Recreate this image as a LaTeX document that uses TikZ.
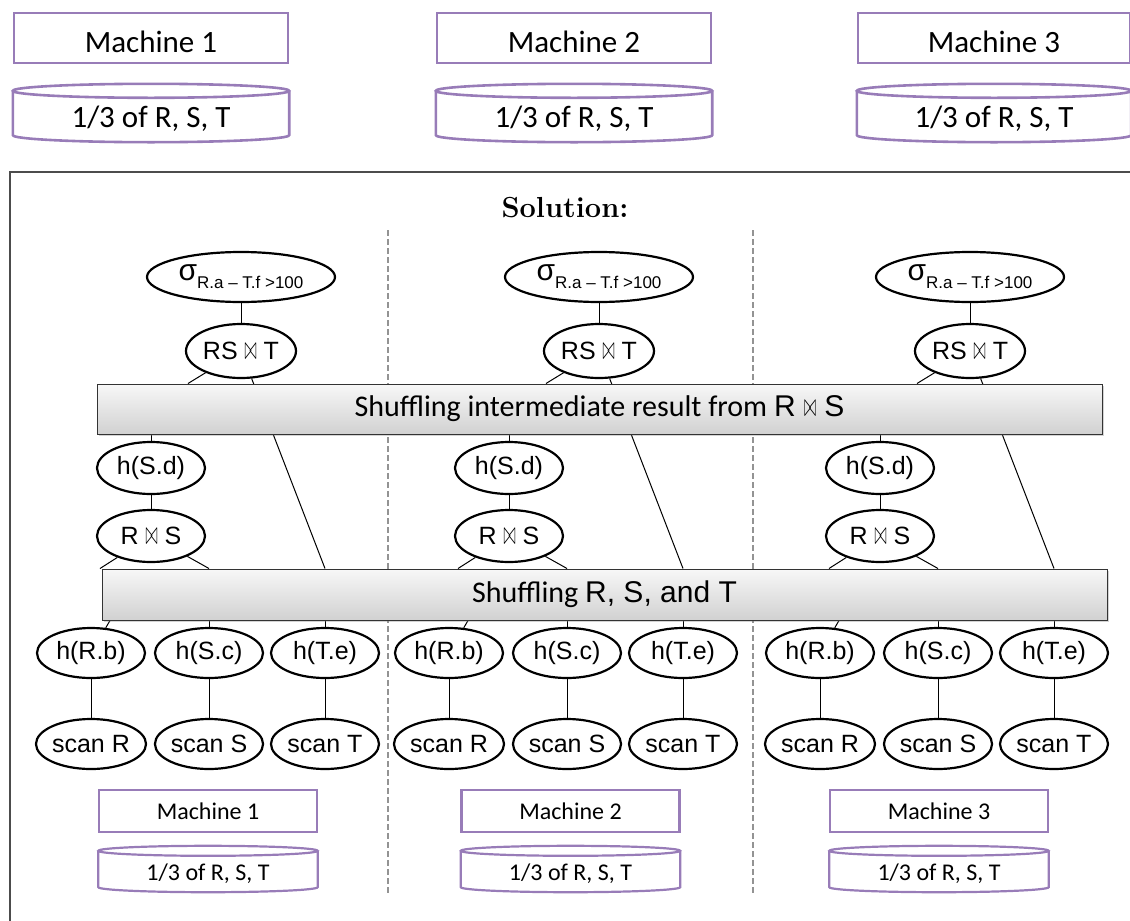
\documentclass[tikz,border=0pt]{standalone}
\usepackage{fontspec}
\newfontfamily\calibri{Carlito}
\newfontfamily\arial{Liberation Sans}
\usetikzlibrary{positioning,shapes.geometric,shadows,backgrounds,calc}
\definecolor{machine}{RGB}{152,124,184}
\newcommand\jointie{\scalebox{0.6}[1.35]{$\bowtie$}}
% outline of a disk: node, cap radius, line options
\newcommand\drawdisk[3]{%
  \path let \p1=(#1.north west), \p2=(#1.south east), \n1={(\x2-\x1)/2} in
    [draw=machine,#3]
    (#1.north) ellipse [x radius=\n1, y radius=#2pt]
    (#1.north west) -- (#1.south west)
    arc [start angle=180, end angle=360, x radius=\n1, y radius=#2pt]
    -- (#1.north east);
}
\tikzset{
  topbox/.style={draw=machine,line width=2.6pt,minimum height=50pt,inner sep=0pt,
    text height=29pt,text depth=0pt,font=\calibri\fontsize{31}{36}\selectfont},
  topdisk/.style={minimum height=44pt,inner sep=0pt,text height=30pt,text depth=2pt,
    font=\calibri\fontsize{31}{36}\selectfont},
  lowbox/.style={draw=machine,line width=2.2pt,minimum width=218pt,minimum height=42pt,
    inner sep=0pt,font=\calibri\fontsize{24}{28}\selectfont},
  lowdisk/.style={minimum width=219pt,minimum height=36pt,inner sep=0pt,
    text height=24pt,text depth=2pt,font=\calibri\fontsize{24}{28}\selectfont},
  op/.style={ellipse,draw,line width=2.2pt,minimum width=108pt,minimum height=50pt,
    inner sep=0pt,font=\arial\fontsize{25}{30}\selectfont},
  shuffle/.style={draw=black!80,line width=1pt,top color=gray!6,bottom color=gray!36,
    drop shadow={opacity=0.35,shadow xshift=2pt,shadow yshift=-2pt},
    minimum width=1005pt,inner sep=0pt,font=\calibri\fontsize{30}{34}\selectfont},
  link/.style={line width=1pt},
  sep/.style={gray!85,dash pattern=on 6pt off 3pt,line width=2.6pt},
}

\begin{document}
\begin{tikzpicture}[x=1pt,y=1pt]
\useasboundingbox (0,0) rectangle (1130,-921);
\clip (0,0) rectangle (1130,-921);

% the three machines, each with a third of the data
\foreach \m/\x/\w in {1/151/274,2/574/274,3/994/272}{
  \node[topbox,minimum width=\w] (top\m) at (\x,-38) {Machine \m};
  \node[topdisk,minimum width=\w+2] (topdisk\m) at (\x,-113) {1/3 of R, S, T};
  \drawdisk{topdisk\m}{7}{line width=2.6pt}
}

% frame round the solution
\draw[black!70,line width=1.4pt] (10,-930) -- (10,-172) -- (1140,-172);
\node[font=\fontsize{29}{34}\selectfont\bfseries] (title) at (565,-208) {Solution:};

\draw[sep] (388,-230) -- (388,-895);
\draw[sep] (753,-230) -- (753,-895);

% one plan per machine
\foreach \c/\x in {1/241,2/599,3/970}{
  \node[op,minimum width=188pt] (sel\c) at (\x,-277)
    {{\fontsize{30}{30}\selectfont σ}\raisebox{-8pt}{\fontsize{17}{17}\selectfont R.a – T.f >100}};
  \node[op,minimum width=110pt,minimum height=54pt] (rst\c) at (\x,-351) {RS \jointie\ T};
  \node[op,minimum height=52pt] (hsd\c) at (\x-90,-468) {h(S.d)};
  \node[op,minimum height=52pt] (rs\c) at (\x-90,-536) {R \jointie\ S};
  \node[op] (hrb\c) at (\x-150,-653) {h(R.b)};
  \node[op] (hsc\c) at (\x-32,-653) {h(S.c)};
  \node[op] (hte\c) at (\x+84,-653) {h(T.e)};
  \node[op] (scr\c) at (\x-150,-744) {scan R};
  \node[op] (scs\c) at (\x-32,-744) {scan S};
  \node[op] (sct\c) at (\x+84,-744) {scan T};
}

\node[shuffle,minimum height=50pt] (mid) at (599.5,-409)
  {Shuffling intermediate result from {\arial\fontsize{30}{34}\selectfont R \jointie\ S}};
\node[shuffle,minimum height=51pt] (base) at (604.5,-594.5)
  {Shuffling {\arial\fontsize{30}{34}\selectfont R, S, and T}};

% edges run behind the shuffle bars
\begin{scope}[on background layer]
\foreach \c in {1,2,3}{
  \draw[link] (sel\c) -- (rst\c);
  \draw[link] (rst\c) -- ([xshift=-53pt]rst\c.center |- mid.north);
  \draw[link] (hsd\c) -- (hsd\c |- mid.south);
  \draw[link] (rst\c) -- (hte\c |- base.north);
  \draw[link] (hsd\c) -- (rs\c);
  \draw[link] (rs\c) -- ([xshift=9pt]hrb\c.center |- base.north);
  \draw[link] (rs\c) -- (hsc\c |- base.north);
  \draw[link] (hrb\c) -- ([xshift=19pt]hrb\c.center |- base.south);
  \draw[link] (hsc\c) -- (hsc\c |- base.south);
  \draw[link] (hte\c) -- (hte\c |- base.south);
  \draw[link] (hrb\c) -- (scr\c);
  \draw[link] (hsc\c) -- (scs\c);
  \draw[link] (hte\c) -- (sct\c);
}
\end{scope}

\foreach \m/\x in {1/208,2/570.5,3/939}{
  \node[lowbox] (low\m) at (\x,-811) {Machine \m};
  \node[lowdisk] (lowdisk\m) at (\x,-869) {1/3 of R, S, T};
  \drawdisk{lowdisk\m}{5}{line width=2.2pt}
}
\end{tikzpicture}
\end{document}
